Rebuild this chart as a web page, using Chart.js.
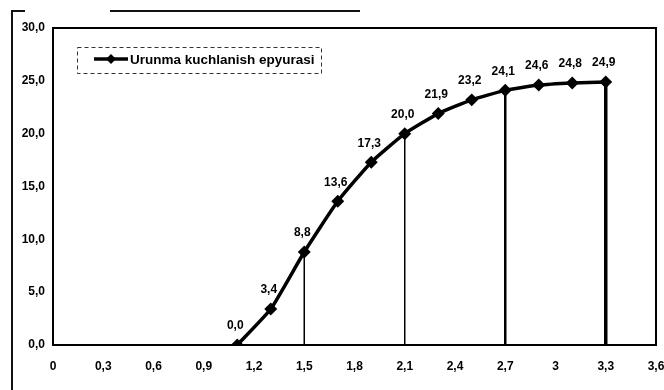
<!DOCTYPE html>
<html>
<head>
<meta charset="utf-8">
<script src="https://cdn.jsdelivr.net/npm/chart.js@4"></script>
<style>
  html, body { margin: 0; padding: 0; background: #fff; }
  #wrap { position: relative; width: 664px; height: 390px; }
  .edge { position: absolute; background: #111; }
</style>
</head>
<body>
<div id="wrap">
  <canvas id="lineChart" width="664" height="390"></canvas>
  <div class="edge" style="left:11px; top:10px; width:2px; height:380px;"></div>
  <div class="edge" style="left:11px; top:10px; width:14px; height:2px;"></div>
  <div class="edge" style="left:110px; top:10px; width:250px; height:2px;"></div>
</div>
<script>
var xValues = [1.1, 1.3, 1.5, 1.7, 1.9, 2.1, 2.3, 2.5, 2.7, 2.9, 3.1, 3.3];
var yValues = [0.0, 3.4, 8.8, 13.6, 17.3, 20.0, 21.9, 23.2, 24.1, 24.6, 24.8, 24.9];
var seriesName = "Urunma kuchlanish epyurasi";
// vertical drop lines (x position, line width)
var dropX = [1.5, 2.1, 2.7, 3.3];
var dropWidth = [1.5, 1.5, 2.5, 3.5];

function comma(v, digits) {
    return v.toFixed(digits).replace('.', ',');
}

var points = xValues.map(function (x, i) { return {x: x, y: yValues[i]}; });

var datasets = [{
    label: seriesName,
    data: points,
    borderColor: '#000',
    backgroundColor: '#000',
    borderWidth: 3.5,
    pointStyle: 'rectRot',
    pointRadius: 4,
    tension: 0.15
}];
dropX.forEach(function (x, i) {
    var y = yValues[xValues.indexOf(x)];
    datasets.push({
        data: [{x: x, y: 0}, {x: x, y: y}],
        borderColor: '#000',
        borderWidth: dropWidth[i],
        pointRadius: 0
    });
});

var FONT = '"Liberation Sans", Arial, sans-serif';

var extras = {
    id: 'extras',
    beforeDatasetsDraw: function (chart) {
        var c = chart.ctx, a = chart.chartArea;
        c.save();
        c.strokeStyle = '#000';
        c.lineWidth = 2;
        c.strokeRect(a.left, a.top, a.right - a.left, a.bottom - a.top);
        c.restore();
    },
    afterDatasetsDraw: function (chart) {
        var c = chart.ctx;
        c.save();
        // value labels
        c.font = 'bold 12px ' + FONT;
        c.fillStyle = '#000';
        c.textAlign = 'center';
        c.textBaseline = 'middle';
        chart.getDatasetMeta(0).data.forEach(function (pt, i) {
            c.fillText(comma(yValues[i], 1), pt.x - 2, pt.y - 19);
        });
        // legend
        c.setLineDash([4, 3]);
        c.lineWidth = 1;
        c.strokeStyle = '#333';
        c.strokeRect(77.5, 47.5, 244, 26);
        c.setLineDash([]);
        c.strokeStyle = '#000';
        c.lineWidth = 3.5;
        c.beginPath();
        c.moveTo(94, 59);
        c.lineTo(128, 59);
        c.stroke();
        c.beginPath();
        c.moveTo(111, 54); c.lineTo(116, 59); c.lineTo(111, 64); c.lineTo(106, 59);
        c.closePath();
        c.fill();
        c.font = 'bold 13.5px ' + FONT;
        c.textAlign = 'left';
        c.fillText(seriesName, 130, 60);
        c.restore();
    }
};

var ctx = document.getElementById("lineChart").getContext('2d');
var myChart = new Chart(ctx, {
    type: 'line',
    data: { datasets: datasets },
    plugins: [extras],
    options: {
        responsive: false,
        animation: false,
        layout: { padding: { top: 28, right: 8, left: 0, bottom: 0 } },
        plugins: {
            legend: { display: false },
            tooltip: { enabled: false }
        },
        scales: {
            x: {
                type: 'linear',
                min: 0,
                max: 3.6,
                grid: { display: false, drawTicks: false },
                border: { display: false },
                ticks: {
                    stepSize: 0.3,
                    padding: 14,
                    maxRotation: 0,
                    autoSkip: false,
                    color: '#000',
                    font: { family: FONT, size: 12, weight: 'bold' },
                    callback: function (v) { return String(+v.toFixed(1)).replace('.', ','); }
                },
                afterFit: function (s) { s.height = 45; s.paddingLeft = 0; s.paddingRight = 0; }
            },
            y: {
                min: 0,
                max: 30,
                grid: { display: false, drawTicks: false },
                border: { display: false },
                ticks: {
                    stepSize: 5,
                    padding: 8,
                    color: '#000',
                    font: { family: FONT, size: 12, weight: 'bold' },
                    callback: function (v) { return comma(v, 1); }
                },
                afterFit: function (s) { s.width = 53; }
            }
        }
    }
});
</script>
</body>
</html>
